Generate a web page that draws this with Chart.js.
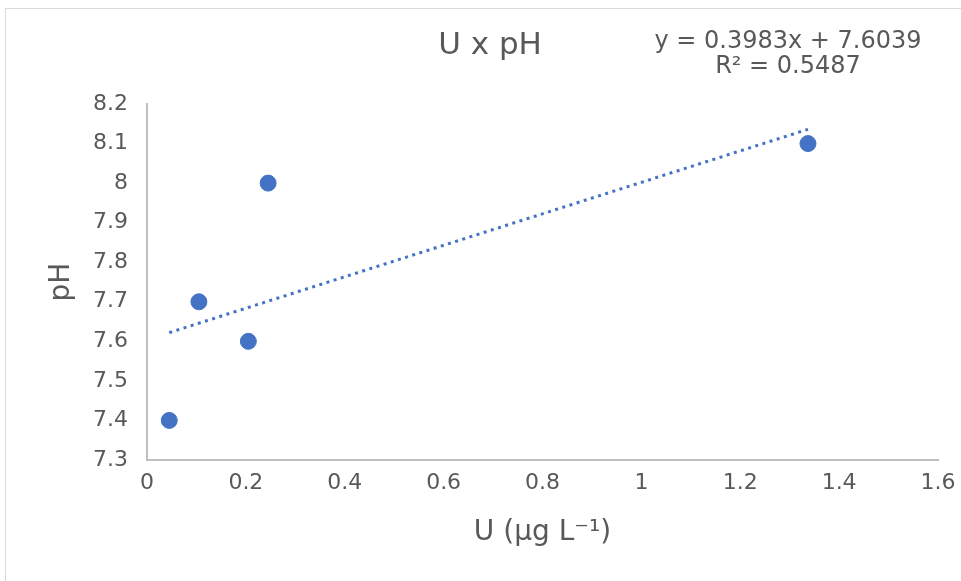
<!DOCTYPE html>
<html>
<head>
<meta charset="utf-8">
<script src="https://cdn.jsdelivr.net/npm/chart.js@4"></script>
<style>
    body { margin: 0; background: #fff; }
    .wrap { position: relative; width: 961px; height: 581px; overflow: hidden; }
    .frame { position: absolute; left: 5px; top: 8px; width: 1000px; height: 1000px; border: 1px solid #d9d9d9; }
    canvas { position: absolute; left: 0; top: 0; }
</style>
</head>
<body>
<div class="wrap">
    <div class="frame"></div>
    <canvas id="chartUpH" width="961" height="581"></canvas>
</div>
<script>
// dati
const uValues = [0.045, 0.105, 0.205, 0.245, 1.337];
const phValues = [7.4, 7.7, 7.6, 8.0, 8.1];
const trendX = [0.045, 1.337];
const trendY = [7.622, 8.136];
const chartTitle = 'U x pH';
const eqLines = ['y = 0.3983x + 7.6039', 'R² = 0.5487'];

const textColor = '#595959';
const blue = '#4472C4';
const font = 'DejaVu Sans';

// titolo ed equazione della linea di tendenza
const labelsPlugin = {
    id: 'labels',
    afterDraw(chart) {
        const ctx = chart.ctx;
        ctx.save();
        ctx.fillStyle = textColor;
        ctx.textAlign = 'center';
        ctx.textBaseline = 'middle';
        ctx.font = '31px "' + font + '"';
        ctx.fillText(chartTitle, 490, 46);
        ctx.font = '24px "' + font + '"';
        ctx.fillText(eqLines[0], 788, 42);
        ctx.fillText(eqLines[1], 788, 67);
        ctx.restore();
    }
};

const fmt = v => String(+Number(v).toFixed(1));

const ctx = document.getElementById('chartUpH').getContext('2d');
new Chart(ctx, {
    type: 'scatter',
    data: {
        datasets: [{
            label: 'pH',
            data: uValues.map((u, i) => ({ x: u, y: phValues[i] })),
            backgroundColor: blue,
            borderColor: blue,
            pointRadius: 8,
            pointHoverRadius: 8
        }, {
            type: 'line',
            label: 'Trend',
            data: trendX.map((x, i) => ({ x: x, y: trendY[i] })),
            borderColor: blue,
            borderWidth: 3,
            borderDash: [3, 4.5],
            pointRadius: 0,
            fill: false
        }]
    },
    options: {
        responsive: false,
        animation: false,
        layout: { padding: { left: 0, right: 23, top: 104, bottom: 0 } },
        plugins: {
            legend: { display: false },
            tooltip: { enabled: false }
        },
        scales: {
            x: {
                type: 'linear',
                min: 0,
                max: 1.6,
                afterFit: s => {
                    s.height = 121;
                    s.paddingLeft = 0;
                    s.paddingRight = 0;
                },
                grid: { display: false, drawTicks: false },
                border: { display: true, color: '#bfbfbf', width: 2 },
                ticks: {
                    stepSize: 0.2,
                    padding: 10,
                    color: textColor,
                    font: { family: font, size: 22 },
                    callback: fmt
                },
                title: {
                    display: true,
                    text: 'U (µg L⁻¹)',
                    color: textColor,
                    font: { family: font, size: 28 },
                    padding: { top: 0, bottom: 31 }
                }
            },
            y: {
                min: 7.3,
                max: 8.2,
                afterFit: s => { s.width = 147; },
                grid: { display: false, drawTicks: false },
                border: { display: true, color: '#bfbfbf', width: 2 },
                ticks: {
                    stepSize: 0.1,
                    padding: 19,
                    color: textColor,
                    font: { family: font, size: 22 },
                    callback: fmt
                },
                title: {
                    display: true,
                    text: 'pH',
                    color: textColor,
                    font: { family: font, size: 28 },
                    padding: { top: 45, bottom: 0 }
                }
            }
        }
    },
    plugins: [labelsPlugin]
});
</script>
</body>
</html>
